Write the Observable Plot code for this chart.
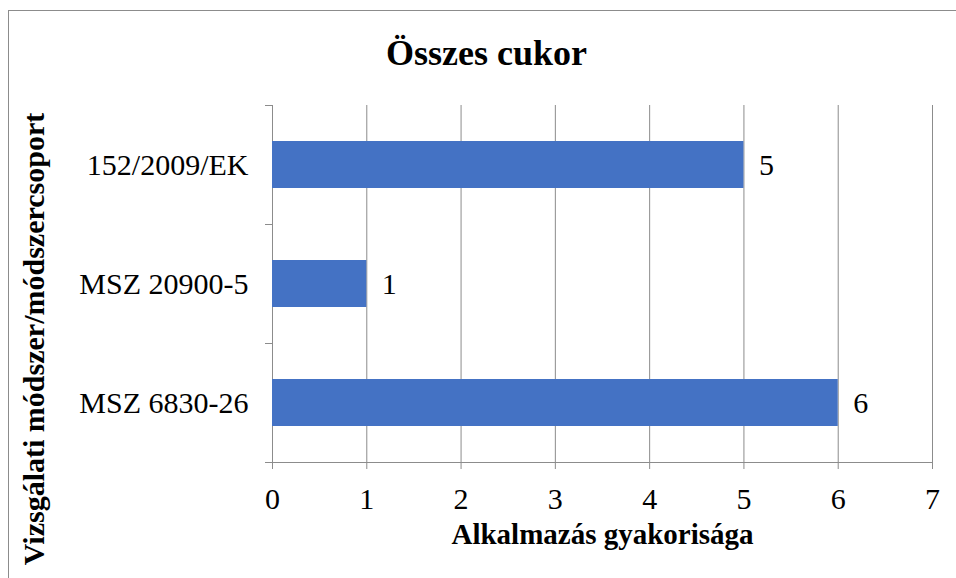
<!DOCTYPE html>
<html>
<head>
<meta charset="utf-8">
<script src="https://cdn.jsdelivr.net/npm/d3@7"></script>
<script src="https://cdn.jsdelivr.net/npm/@observablehq/plot@0.6"></script>
<style>
  html, body { margin: 0; padding: 0; background: #fff; }
  #wrap { position: relative; width: 956px; height: 578px; overflow: hidden; font-family: "Liberation Serif", "Times New Roman", serif; }
  #border { position: absolute; left: 8px; top: 10px; width: 1000px; height: 1000px; border: 1px solid #8c8c8c; box-sizing: border-box; }
  #title { position: absolute; left: 0; top: 35px; width: 973px; text-align: center; font-size: 36px; line-height: 36px; font-weight: bold; color: #000; }
  #ylabel { position: absolute; left: 34px; top: 339px; transform: translate(-50%, -50%) rotate(-90deg); white-space: nowrap; font-size: 30px; line-height: 30px; font-weight: bold; color: #000; }
  #chart { position: absolute; left: 0; top: 0; }
</style>
</head>
<body>
<div id="wrap">
  <div id="border"></div>
  <div id="chart"></div>
  <div id="title"></div>
  <div id="ylabel"></div>
</div>
<script>
const title = "Összes cukor";
const xLabel = "Alkalmazás gyakorisága";
const yLabel = "Vizsgálati módszer/módszercsoport";
const categories = ["152/2009/EK", "MSZ 20900-5", "MSZ 6830-26"];
const values = [5, 1, 6];
const xTicks = [0, 1, 2, 3, 4, 5, 6, 7];

const data = categories.map((c, i) => ({method: c, count: values[i]}));
const gray = "#8c8c8c";
const font = "'Liberation Serif', 'Times New Roman', serif";

document.getElementById("title").textContent = title;
document.getElementById("ylabel").textContent = yLabel;

const chart = Plot.plot({
  width: 956,
  height: 578,
  marginLeft: 272,
  marginRight: 24,
  marginTop: 105,
  marginBottom: 116,
  style: {fontFamily: font, background: "transparent", color: "#000", overflow: "visible"},
  x: {domain: [0, 7], ticks: xTicks, label: null},
  y: {domain: categories, paddingInner: 0.605, paddingOuter: 0.3025, label: null},
  marks: [
    Plot.gridX(xTicks, {stroke: gray, strokeOpacity: 1}),
    Plot.frame({anchor: "bottom", stroke: gray}),
    Plot.axisX({ticks: xTicks, tickSize: 7, tickFormat: () => "", stroke: gray, strokeOpacity: 1, label: null}),
    Plot.axisX({ticks: xTicks, tickSize: 0, tickPadding: 25, tickFormat: d => String(d), fontSize: 30, fill: "#000", label: null}),
    Plot.axisY({ticks: categories, tickSize: 7, tickFormat: () => "", dy: -59.5, stroke: gray, strokeOpacity: 1, label: null}),
    Plot.axisY({ticks: [categories[categories.length - 1]], tickSize: 7, tickFormat: () => "", dy: 59.5, stroke: gray, strokeOpacity: 1, label: null}),
    Plot.axisY({ticks: categories, tickSize: 0, tickPadding: 24, fontSize: 30, fill: "#000", label: null}),
    Plot.barX(data, {x: "count", y: "method", fill: "#4472C4"}),
    Plot.text(data, {x: "count", y: "method", text: d => String(d.count), textAnchor: "start", dx: 15, fontSize: 30, fill: "#000"}),
    Plot.text([xLabel], {frameAnchor: "bottom", text: d => d, dy: 81, fontSize: 29, fontWeight: "bold", fill: "#000"})
  ]
});
document.getElementById("chart").appendChild(chart);
</script>
</body>
</html>
